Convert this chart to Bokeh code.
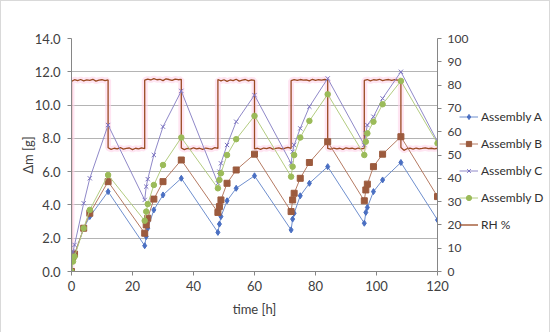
from bokeh.plotting import figure
from bokeh.layouts import row
from bokeh.models import Range1d, LinearAxis, FixedTicker, NumeralTickFormatter, Legend, LegendItem
from bokeh.embed import file_html
from bokeh.resources import INLINE

# measurement times [h]
time_h = [0, 0.5, 1, 4, 6, 12, 24, 24.5, 25, 27, 30, 36, 48, 48.5, 49, 51, 54, 60,
          72, 72.5, 73, 75, 78, 84, 96, 96.5, 97, 99, 102, 108, 120]

assembly_a = [0, 0.8, 1.0, 2.6, 3.3, 4.8, 1.55, 2.1, 2.6, 3.7, 4.6, 5.6, 2.35, 2.85, 3.3, 4.25, 5.0, 5.75,
              2.5, 3.15, 3.5, 4.55, 5.3, 6.3, 2.9, 3.55, 3.85, 4.8, 5.5, 6.55, 3.1]
assembly_b = [0, 0.9, 1.05, 2.6, 3.5, 5.4, 2.3, 2.8, 3.2, 4.35, 5.4, 6.7, 3.55, 3.9, 4.3, 5.3, 6.1, 7.05,
              3.6, 4.3, 4.7, 5.6, 6.55, 7.8, 4.25, 4.9, 5.25, 6.3, 7.05, 8.1, 4.5]
assembly_c = [0, 1.2, 1.6, 4.1, 5.6, 8.8, 4.3, 5.1, 5.55, 7.0, 8.7, 10.85, 5.3, 6.0, 6.5, 7.6, 9.0, 10.6,
              6.5, 7.2, 7.6, 8.6, 9.9, 11.6, 7.6, 8.3, 8.8, 9.3, 10.4, 12.0, 7.8]
assembly_d = [0, 0.6, 0.9, 2.6, 3.7, 5.8, 3.05, 3.6, 4.05, 5.2, 6.4, 8.05, 5.0, 5.5, 5.9, 7.0, 7.95, 9.35,
              5.7, 6.3, 7.0, 8.05, 9.05, 10.65, 7.0, 7.8, 8.3, 9.0, 10.05, 11.45, 7.7]

# relative humidity log, hourly readings per 12 h phase
rh_phases = [
    [81.6, 82.3, 81.9, 82.4, 81.8, 82.2, 82.0, 82.5, 81.7, 82.1, 82.3, 81.9, 82.2],
    [53.1, 52.4, 52.9, 52.6, 53.2, 52.5, 52.8, 53.0, 52.3, 52.9, 52.6, 53.1, 52.7],
    [82.1, 82.6, 82.2, 82.8, 82.3, 82.5, 81.9, 82.7, 82.4, 82.0, 82.6, 82.3, 82.5],
    [53.0, 52.3, 52.8, 52.5, 53.1, 52.6, 52.9, 52.4, 53.0, 52.7, 52.5, 53.2, 52.8],
    [82.4, 81.8, 82.3, 81.6, 82.2, 81.9, 82.5, 81.7, 82.1, 82.4, 81.8, 82.2, 82.0],
    [52.6, 52.9, 52.4, 53.0, 52.7, 53.2, 52.5, 52.8, 53.1, 52.6, 52.9, 53.3, 52.8],
    [81.9, 82.3, 82.0, 82.4, 82.1, 82.2, 81.8, 82.5, 82.0, 82.3, 82.1, 82.4, 82.2],
    [52.8, 52.5, 53.0, 52.6, 52.9, 52.4, 53.1, 52.7, 52.9, 52.5, 53.0, 52.6, 52.8],
    [82.0, 82.4, 81.8, 82.3, 82.1, 82.5, 81.9, 82.2, 82.4, 82.0, 82.3, 82.1, 82.2],
    [53.2, 52.0, 52.7, 52.9, 52.5, 53.0, 52.6, 52.8, 53.1, 52.7, 52.9, 52.6, 52.9],
]
rh_start = [0, 0]  # (time, value) before first phase
phase_hours = 12

series_names = ["Assembly A", "Assembly B", "Assembly C", "Assembly D", "RH %"]
x_ticks = [0, 20, 40, 60, 80, 100, 120]
y_ticks = [0, 2, 4, 6, 8, 10, 12, 14]
rh_ticks = [0, 10, 20, 30, 40, 50, 60, 70, 80, 90, 100]

rh_t = [rh_start[0]]
rh_v = [rh_start[1]]
for k, phase in enumerate(rh_phases):
    for j, v in enumerate(phase):
        rh_t.append(k * phase_hours + j)
        rh_v.append(v)

FONT = "Lato"
TXT = "#404040"

p = figure(frame_width=366, frame_height=233, output_backend="svg", toolbar_location=None,
           x_range=Range1d(0, 120), y_range=Range1d(0, 14),
           min_border_left=70, min_border_right=0, min_border_top=37, min_border_bottom=60)
p.outline_line_color = None
p.background_fill_color = "white"
p.border_fill_color = "white"

p.extra_y_ranges = {"rh": Range1d(0, 100)}

# axes
p.xaxis.ticker = FixedTicker(ticks=x_ticks)
p.yaxis.ticker = FixedTicker(ticks=y_ticks)
p.yaxis.formatter = NumeralTickFormatter(format="0.0")
p.xaxis.axis_label = "time [h]"
p.yaxis.axis_label = "Δm [g]"

rax = LinearAxis(y_range_name="rh", ticker=FixedTicker(ticks=rh_ticks),
                 formatter=NumeralTickFormatter(format="0"))
p.add_layout(rax, "right")

for ax in [p.xaxis[0], p.yaxis[0], rax]:
    ax.axis_line_color = "#868686"
    ax.major_tick_line_color = "#868686"
    ax.major_tick_out = 4
    ax.major_tick_in = 0
    ax.minor_tick_line_color = None
    ax.major_label_text_font = FONT
    ax.major_label_text_font_size = "13px"
    ax.major_label_text_color = TXT
    ax.axis_label_text_font = FONT
    ax.axis_label_text_font_size = "13px"
    ax.axis_label_text_font_style = "normal"
    ax.axis_label_text_color = TXT
rax.major_label_text_font_size = "12px"
p.yaxis.major_label_standoff = 7
p.xaxis.major_label_standoff = 5
rax.major_label_standoff = 6
p.yaxis.axis_label_standoff = -4
p.xaxis.axis_label_standoff = 7

p.xgrid.visible = False
p.ygrid.ticker = FixedTicker(ticks=y_ticks)
p.ygrid.grid_line_color = "#b4b4b4"

# styles
HALO = "#ffd3e9"
rh_col = "#9a4a22"
line_cols = ["#6f8fce", "#b57a62", "#8f88c8", "#b3cc80"]
mark_cols = ["#4a6fc2", "#9c5b3e", "#7a72c0", "#9bbb59"]
markers = ["diamond", "square", "x", "circle"]
msizes = [6, 6, 6, 5.5]
series = [assembly_a, assembly_b, assembly_c, assembly_d]

# RH
p.line(rh_t, rh_v, y_range_name="rh", line_width=6, color=HALO, alpha=0.6)
p.line(rh_t, rh_v, y_range_name="rh", line_width=1.3, color=rh_col)

for vals, lc, mc, mk, ms in zip(series, line_cols, mark_cols, markers, msizes):
    p.line(time_h, vals, color=lc, line_width=1)
    p.scatter(time_h, vals, marker=mk, size=ms, color=mc, line_width=1)

# legend panel: a narrow companion figure whose view window lies outside the data,
# so only its legend shows; it slightly overlaps the right axis area (transparent)
lg = figure(width=90, height=332, output_backend="svg", toolbar_location=None,
            x_axis_location=None, y_axis_location=None, min_border=0,
            x_range=Range1d(1000, 1001), y_range=Range1d(1000, 1001))
lg.outline_line_color = None
lg.grid.visible = False
lg.border_fill_alpha = 0
lg.background_fill_alpha = 0
lg.styles = {"margin-left": "-12px"}

items = []
for name, vals, lc, mc, mk, ms in zip(series_names[:4], series, line_cols, mark_cols, markers, msizes):
    r1 = lg.line(time_h, vals, color=lc, line_width=1)
    r2 = lg.scatter(time_h, vals, marker=mk, size=ms, color=mc, line_width=1)
    items.append(LegendItem(label=name, renderers=[r1, r2]))
r_rh = lg.line(rh_t, rh_v, color=rh_col, line_width=1.3)
items.append(LegendItem(label=series_names[4], renderers=[r_rh]))

legend = Legend(items=items, location=(0, 39))
legend.padding = 0
legend.margin = 0
legend.spacing = 7
legend.glyph_width = 19
legend.glyph_height = 13
legend.label_height = 20
legend.label_standoff = 3
legend.border_line_color = None
legend.background_fill_alpha = 0
legend.label_text_font = FONT
legend.label_text_font_size = "12px"
legend.label_text_color = "#303030"
lg.add_layout(legend)

layout = row(p, lg)
layout.styles = {"border": "1px solid #d9d9d9"}

open("out.html", "w").write(file_html(layout, INLINE))
